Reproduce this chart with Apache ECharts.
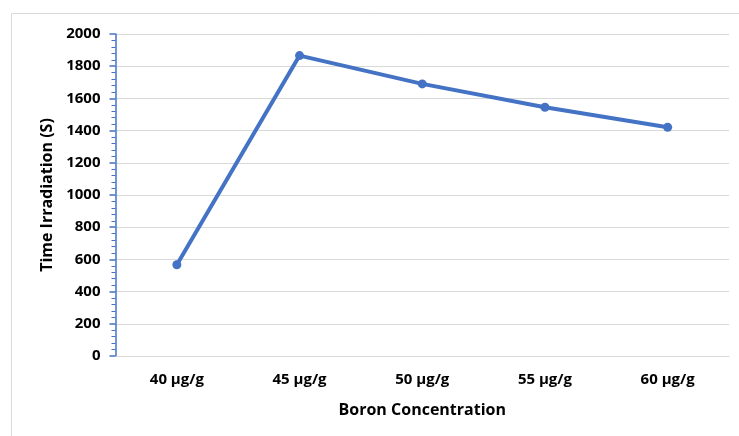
<!DOCTYPE html>
<html>
<head>
<meta charset="utf-8">
<script src="https://cdn.jsdelivr.net/npm/echarts@6/dist/echarts.min.js"></script>
<style>
html,body{margin:0;padding:0;background:#fff;}
#chart{width:739px;height:436px;}
</style>
</head>
<body>
<div id="chart"></div>
<script>
var categories = ['40 µg/g', '45 µg/g', '50 µg/g', '55 µg/g', '60 µg/g'];
var timeIrradiation = [567, 1866, 1690, 1545, 1421];
var yTicks = { min: 0, max: 2000, interval: 200 };
var xTitle = 'Boron Concentration';
var yTitle = 'Time Irradiation (S)';

var FONT = 'Open Sans';
var chart = echarts.init(document.getElementById('chart'), null, { renderer: 'canvas' });
chart.setOption({
  animation: false,
  backgroundColor: '#ffffff',
  graphic: [{
    type: 'rect',
    shape: { x: 11.5, y: 13.5, width: 740, height: 440 },
    style: { fill: 'none', stroke: '#d9d9d9', lineWidth: 1 },
    silent: true, z: -10
  }],
  grid: { left: 115.5, right: 10, top: 34, bottom: 80, outerBoundsMode: 'none', containLabel: false },
  xAxis: {
    type: 'category',
    data: categories,
    boundaryGap: true,
    name: xTitle,
    nameLocation: 'middle',
    nameGap: 46,
    nameTextStyle: { fontFamily: FONT, fontWeight: 'bold', fontSize: 16, color: '#000' },
    axisLine: { show: true, lineStyle: { color: '#d9d9d9', width: 1 } },
    axisTick: { show: false },
    axisLabel: { margin: 16, fontFamily: FONT, fontWeight: 'bold', fontSize: 15, color: '#000' },
    splitLine: { show: false }
  },
  yAxis: {
    type: 'value',
    min: yTicks.min, max: yTicks.max, interval: yTicks.interval,
    name: yTitle,
    nameLocation: 'middle',
    nameGap: 58,
    nameTextStyle: { fontFamily: FONT, fontWeight: 'bold', fontSize: 16, color: '#000' },
    axisLine: { show: true, lineStyle: { color: '#4472c4', width: 1.5 } },
    axisTick: { show: true, inside: false, length: 6, lineStyle: { color: '#4472c4', width: 1.5 } },
    minorTick: { show: true, splitNumber: 5, length: 4, lineStyle: { color: '#4472c4', width: 1 } },
    axisLabel: { margin: 15, fontFamily: FONT, fontWeight: 'bold', fontSize: 15, color: '#000',
      formatter: function (v) { return String(v); } },
    splitLine: { show: true, lineStyle: { color: '#d9d9d9', width: 1 } }
  },
  series: [{
    type: 'line',
    data: timeIrradiation,
    symbol: 'circle',
    symbolSize: 9,
    lineStyle: { color: '#4472c4', width: 4 },
    itemStyle: { color: '#4472c4' },
    z: 5
  }]
});
</script>
</body>
</html>
